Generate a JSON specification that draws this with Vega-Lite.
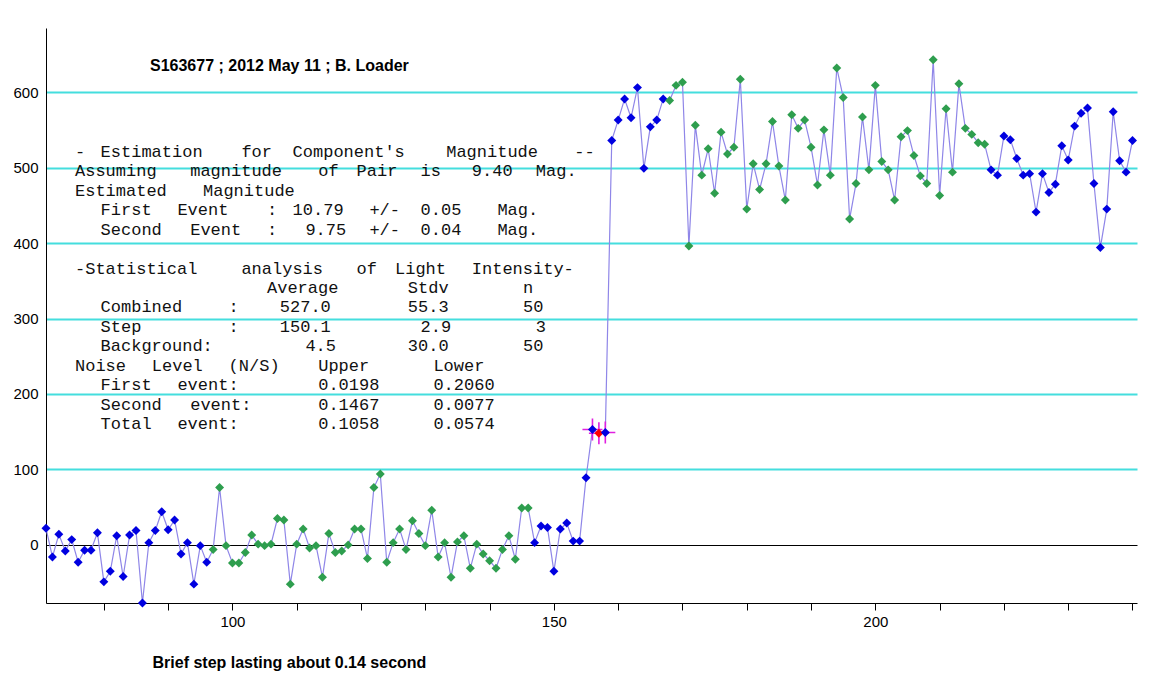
{
  "$schema": "https://vega.github.io/schema/vega-lite/v6.json",
  "autosize": {"type": "none"},
  "width": 1091,
  "height": 575,
  "padding": {"left": 46, "top": 28, "right": 33, "bottom": 93},
  "background": "white",
  "config": {"view": {"stroke": null}, "font": "Liberation Sans"},
  "title": {
    "text": "S163677 ; 2012 May 11 ; B. Loader",
    "anchor": "start",
    "frame": "group",
    "orient": "top",
    "dx": 104,
    "dy": 50,
    "fontSize": 16,
    "fontWeight": "bold",
    "font": "Liberation Sans",
    "color": "black"
  },
  "datasets": {
    "pts": [
      {"x": 71, "v": 22, "g": "out"}, {"x": 72, "v": -16, "g": "out"}, {"x": 73, "v": 14, "g": "out"}, {"x": 74, "v": -8, "g": "out"},
      {"x": 75, "v": 7, "g": "out"}, {"x": 76, "v": -23, "g": "out"}, {"x": 77, "v": -7, "g": "out"}, {"x": 78, "v": -7, "g": "out"},
      {"x": 79, "v": 16, "g": "out"}, {"x": 80, "v": -49, "g": "out"}, {"x": 81, "v": -35, "g": "out"}, {"x": 82, "v": 12, "g": "out"},
      {"x": 83, "v": -42, "g": "out"}, {"x": 84, "v": 13, "g": "out"}, {"x": 85, "v": 19, "g": "out"}, {"x": 86, "v": -77, "g": "out"},
      {"x": 87, "v": 3, "g": "out"}, {"x": 88, "v": 19, "g": "out"}, {"x": 89, "v": 44, "g": "out"}, {"x": 90, "v": 20, "g": "out"},
      {"x": 91, "v": 33, "g": "out"}, {"x": 92, "v": -12, "g": "out"}, {"x": 93, "v": 3, "g": "out"}, {"x": 94, "v": -52, "g": "out"},
      {"x": 95, "v": -1, "g": "out"}, {"x": 96, "v": -23, "g": "out"},
      {"x": 97, "v": -6, "g": "used"}, {"x": 98, "v": 76, "g": "used"}, {"x": 99, "v": -1, "g": "used"}, {"x": 100, "v": -24, "g": "used"},
      {"x": 101, "v": -24, "g": "used"}, {"x": 102, "v": -10, "g": "used"}, {"x": 103, "v": 13, "g": "used"}, {"x": 104, "v": 1, "g": "used"},
      {"x": 105, "v": -1, "g": "used"}, {"x": 106, "v": 1, "g": "used"}, {"x": 107, "v": 35, "g": "used"}, {"x": 108, "v": 33, "g": "used"},
      {"x": 109, "v": -52, "g": "used"}, {"x": 110, "v": 1, "g": "used"}, {"x": 111, "v": 21, "g": "used"}, {"x": 112, "v": -4, "g": "used"},
      {"x": 113, "v": -1, "g": "used"}, {"x": 114, "v": -43, "g": "used"}, {"x": 115, "v": 15, "g": "used"}, {"x": 116, "v": -10, "g": "used"},
      {"x": 117, "v": -8, "g": "used"}, {"x": 118, "v": 0, "g": "used"}, {"x": 119, "v": 21, "g": "used"}, {"x": 120, "v": 21, "g": "used"},
      {"x": 121, "v": -18, "g": "used"}, {"x": 122, "v": 76, "g": "used"}, {"x": 123, "v": 94, "g": "used"}, {"x": 124, "v": -23, "g": "used"},
      {"x": 125, "v": 3, "g": "used"}, {"x": 126, "v": 21, "g": "used"}, {"x": 127, "v": -6, "g": "used"}, {"x": 128, "v": 32, "g": "used"},
      {"x": 129, "v": 15, "g": "used"}, {"x": 130, "v": -1, "g": "used"}, {"x": 131, "v": 46, "g": "used"}, {"x": 132, "v": -16, "g": "used"},
      {"x": 133, "v": 3, "g": "used"}, {"x": 134, "v": -43, "g": "used"}, {"x": 135, "v": 4, "g": "used"}, {"x": 136, "v": 12, "g": "used"},
      {"x": 137, "v": -31, "g": "used"}, {"x": 138, "v": 1, "g": "used"}, {"x": 139, "v": -12, "g": "used"}, {"x": 140, "v": -21, "g": "used"},
      {"x": 141, "v": -31, "g": "used"}, {"x": 142, "v": -6, "g": "used"}, {"x": 143, "v": 12, "g": "used"}, {"x": 144, "v": -19, "g": "used"},
      {"x": 145, "v": 49, "g": "used"}, {"x": 146, "v": 49, "g": "used"},
      {"x": 147, "v": 3, "g": "out"}, {"x": 148, "v": 25, "g": "out"}, {"x": 149, "v": 23, "g": "out"}, {"x": 150, "v": -35, "g": "out"},
      {"x": 151, "v": 21, "g": "out"}, {"x": 152, "v": 29, "g": "out"}, {"x": 153, "v": 5, "g": "out"}, {"x": 154, "v": 5, "g": "out"},
      {"x": 155, "v": 89, "g": "out"},
      {"x": 156, "v": 153, "g": "step"}, {"x": 157, "v": 148, "g": "stepmid"}, {"x": 158, "v": 149, "g": "step"},
      {"x": 159, "v": 536, "g": "out"}, {"x": 160, "v": 563, "g": "out"}, {"x": 161, "v": 591, "g": "out"}, {"x": 162, "v": 566, "g": "out"},
      {"x": 163, "v": 606, "g": "out"}, {"x": 164, "v": 499, "g": "out"}, {"x": 165, "v": 554, "g": "out"}, {"x": 166, "v": 563, "g": "out"},
      {"x": 167, "v": 591, "g": "out"},
      {"x": 168, "v": 589, "g": "used"}, {"x": 169, "v": 609, "g": "used"}, {"x": 170, "v": 613, "g": "used"}, {"x": 171, "v": 396, "g": "used"},
      {"x": 172, "v": 556, "g": "used"}, {"x": 173, "v": 490, "g": "used"}, {"x": 174, "v": 525, "g": "used"}, {"x": 175, "v": 466, "g": "used"},
      {"x": 176, "v": 547, "g": "used"}, {"x": 177, "v": 518, "g": "used"}, {"x": 178, "v": 527, "g": "used"}, {"x": 179, "v": 617, "g": "used"},
      {"x": 180, "v": 445, "g": "used"}, {"x": 181, "v": 505, "g": "used"}, {"x": 182, "v": 471, "g": "used"}, {"x": 183, "v": 505, "g": "used"},
      {"x": 184, "v": 561, "g": "used"}, {"x": 185, "v": 502, "g": "used"}, {"x": 186, "v": 457, "g": "used"}, {"x": 187, "v": 570, "g": "used"},
      {"x": 188, "v": 552, "g": "used"}, {"x": 189, "v": 563, "g": "used"}, {"x": 190, "v": 527, "g": "used"}, {"x": 191, "v": 477, "g": "used"},
      {"x": 192, "v": 550, "g": "used"}, {"x": 193, "v": 490, "g": "used"}, {"x": 194, "v": 632, "g": "used"}, {"x": 195, "v": 593, "g": "used"},
      {"x": 196, "v": 432, "g": "used"}, {"x": 197, "v": 479, "g": "used"}, {"x": 198, "v": 567, "g": "used"}, {"x": 199, "v": 497, "g": "used"},
      {"x": 200, "v": 609, "g": "used"}, {"x": 201, "v": 508, "g": "used"}, {"x": 202, "v": 497, "g": "used"}, {"x": 203, "v": 457, "g": "used"},
      {"x": 204, "v": 541, "g": "used"}, {"x": 205, "v": 549, "g": "used"}, {"x": 206, "v": 516, "g": "used"}, {"x": 207, "v": 489, "g": "used"},
      {"x": 208, "v": 479, "g": "used"}, {"x": 209, "v": 643, "g": "used"}, {"x": 210, "v": 463, "g": "used"}, {"x": 211, "v": 578, "g": "used"},
      {"x": 212, "v": 494, "g": "used"}, {"x": 213, "v": 611, "g": "used"}, {"x": 214, "v": 552, "g": "used"}, {"x": 215, "v": 544, "g": "used"},
      {"x": 216, "v": 533, "g": "used"}, {"x": 217, "v": 531, "g": "used"},
      {"x": 218, "v": 497, "g": "out"}, {"x": 219, "v": 490, "g": "out"}, {"x": 220, "v": 542, "g": "out"}, {"x": 221, "v": 537, "g": "out"},
      {"x": 222, "v": 512, "g": "out"}, {"x": 223, "v": 490, "g": "out"}, {"x": 224, "v": 492, "g": "out"}, {"x": 225, "v": 441, "g": "out"},
      {"x": 226, "v": 492, "g": "out"}, {"x": 227, "v": 467, "g": "out"}, {"x": 228, "v": 478, "g": "out"}, {"x": 229, "v": 529, "g": "out"},
      {"x": 230, "v": 510, "g": "out"}, {"x": 231, "v": 555, "g": "out"}, {"x": 232, "v": 572, "g": "out"}, {"x": 233, "v": 579, "g": "out"},
      {"x": 234, "v": 479, "g": "out"}, {"x": 235, "v": 394, "g": "out"}, {"x": 236, "v": 445, "g": "out"}, {"x": 237, "v": 574, "g": "out"},
      {"x": 238, "v": 509, "g": "out"}, {"x": 239, "v": 494, "g": "out"}, {"x": 240, "v": 536, "g": "out"}
    ],
    "notes": [
      {"i": 0, "c": 0, "t": "-"}, {"i": 0, "c": 2, "t": "Estimation"}, {"i": 0, "c": 13, "t": "for"}, {"i": 0, "c": 17, "t": "Component's"}, {"i": 0, "c": 29, "t": "Magnitude"}, {"i": 0, "c": 39, "t": "--"},
      {"i": 1, "c": 0, "t": "Assuming"}, {"i": 1, "c": 9, "t": "magnitude"}, {"i": 1, "c": 19, "t": "of"}, {"i": 1, "c": 22, "t": "Pair"}, {"i": 1, "c": 27, "t": "is"}, {"i": 1, "c": 31, "t": "9.40"}, {"i": 1, "c": 36, "t": "Mag."},
      {"i": 2, "c": 0, "t": "Estimated"}, {"i": 2, "c": 10, "t": "Magnitude"},
      {"i": 3, "c": 2, "t": "First"}, {"i": 3, "c": 8, "t": "Event"}, {"i": 3, "c": 15, "t": ":"}, {"i": 3, "c": 17, "t": "10.79"}, {"i": 3, "c": 23, "t": "+/-"}, {"i": 3, "c": 27, "t": "0.05"}, {"i": 3, "c": 33, "t": "Mag."},
      {"i": 4, "c": 2, "t": "Second"}, {"i": 4, "c": 9, "t": "Event"}, {"i": 4, "c": 15, "t": ":"}, {"i": 4, "c": 18, "t": "9.75"}, {"i": 4, "c": 23, "t": "+/-"}, {"i": 4, "c": 27, "t": "0.04"}, {"i": 4, "c": 33, "t": "Mag."},
      {"i": 6, "c": 0, "t": "-Statistical"}, {"i": 6, "c": 13, "t": "analysis"}, {"i": 6, "c": 22, "t": "of"}, {"i": 6, "c": 25, "t": "Light"}, {"i": 6, "c": 31, "t": "Intensity-"},
      {"i": 7, "c": 15, "t": "Average"}, {"i": 7, "c": 26, "t": "Stdv"}, {"i": 7, "c": 35, "t": "n"},
      {"i": 8, "c": 2, "t": "Combined"}, {"i": 8, "c": 12, "t": ":"}, {"i": 8, "c": 16, "t": "527.0"}, {"i": 8, "c": 26, "t": "55.3"}, {"i": 8, "c": 35, "t": "50"},
      {"i": 9, "c": 2, "t": "Step"}, {"i": 9, "c": 12, "t": ":"}, {"i": 9, "c": 16, "t": "150.1"}, {"i": 9, "c": 27, "t": "2.9"}, {"i": 9, "c": 36, "t": "3"},
      {"i": 10, "c": 2, "t": "Background:"}, {"i": 10, "c": 18, "t": "4.5"}, {"i": 10, "c": 26, "t": "30.0"}, {"i": 10, "c": 35, "t": "50"},
      {"i": 11, "c": 0, "t": "Noise"}, {"i": 11, "c": 6, "t": "Level"}, {"i": 11, "c": 12, "t": "(N/S)"}, {"i": 11, "c": 19, "t": "Upper"}, {"i": 11, "c": 28, "t": "Lower"},
      {"i": 12, "c": 2, "t": "First"}, {"i": 12, "c": 8, "t": "event:"}, {"i": 12, "c": 19, "t": "0.0198"}, {"i": 12, "c": 28, "t": "0.2060"},
      {"i": 13, "c": 2, "t": "Second"}, {"i": 13, "c": 9, "t": "event:"}, {"i": 13, "c": 19, "t": "0.1467"}, {"i": 13, "c": 28, "t": "0.0077"},
      {"i": 14, "c": 2, "t": "Total"}, {"i": 14, "c": 8, "t": "event:"}, {"i": 14, "c": 19, "t": "0.1058"}, {"i": 14, "c": 28, "t": "0.0574"}
    ]
  },
  "resolve": {"scale": {"x": "independent", "y": "independent"}, "axis": {"x": "independent", "y": "independent"}},
  "layer": [
    {
      "data": {"name": "pts"},
      "encoding": {
        "x": {
          "field": "x",
          "type": "quantitative",
          "scale": {"domain": [71, 240.7], "nice": false, "zero": false},
          "axis": {
            "values": [80, 90, 100, 110, 120, 130, 140, 150, 160, 170, 180, 190, 200, 210, 220, 230, 240],
            "labelExpr": "datum.value % 50 === 0 ? datum.label : ''",
            "grid": false,
            "tickSize": 7,
            "tickColor": "black",
            "domainColor": "black",
            "labelColor": "black",
            "labelFontSize": 15,
            "labelPadding": 4,
            "labelFont": "Liberation Sans",
            "title": "Brief step lasting about 0.14 second",
            "titleFontWeight": "bold",
            "titleFontSize": 16,
            "titleFont": "Liberation Sans",
            "titleColor": "black",
            "titleAnchor": "start",
            "titleAlign": "left",
            "titleX": 106,
            "titleY": 59,
            "titleBaseline": "middle"
          }
        },
        "y": {
          "field": "v",
          "type": "quantitative",
          "scale": {"domain": [-77, 685], "nice": false, "zero": false},
          "axis": {
            "values": [0, 100, 200, 300, 400, 500, 600],
            "title": null,
            "ticks": false,
            "labelPadding": 8,
            "labelFontSize": 15,
            "labelColor": "black",
            "labelFont": "Liberation Sans",
            "domainColor": "black",
            "grid": true,
            "gridColor": {"condition": {"test": "datum.value === 0", "value": "black"}, "value": "#44dede"},
            "gridWidth": {"condition": {"test": "datum.value === 0", "value": 1}, "value": 2},
            "gridOpacity": 1
          }
        }
      },
      "layer": [
        {
          "mark": {"type": "line", "color": "#8f86e8", "strokeWidth": 1.2},
          "encoding": {"order": {"field": "x", "type": "quantitative"}}
        },
        {
          "transform": [{"filter": "datum.g === 'step' || datum.g === 'stepmid'"}],
          "mark": {"type": "point", "shape": "M-1,0H1M0,-1.1V1.1", "filled": false, "stroke": "#e020e0", "strokeWidth": 1.6, "size": 400, "opacity": 1}
        },
        {
          "mark": {"type": "point", "shape": "diamond", "filled": true, "size": 80, "opacity": 1},
          "encoding": {
            "color": {
              "field": "g",
              "type": "nominal",
              "scale": {"domain": ["out", "used", "step", "stepmid"], "range": ["#0000e0", "#2e9e4e", "#0000e0", "#ff0000"]},
              "legend": null
            }
          }
        }
      ]
    },
    {
      "data": {"name": "notes"},
      "mark": {"type": "text", "align": "left", "baseline": "middle", "font": "Liberation Mono", "fontSize": 17, "color": "#111111"},
      "encoding": {
        "x": {"field": "c", "type": "quantitative", "scale": {"domain": [-2.266, 82.97], "nice": false, "zero": false}, "axis": null},
        "y": {"field": "i", "type": "quantitative", "scale": {"domain": [23.21, -6.38], "nice": false, "zero": false}, "axis": null},
        "text": {"field": "t", "type": "nominal"}
      }
    }
  ]
}
